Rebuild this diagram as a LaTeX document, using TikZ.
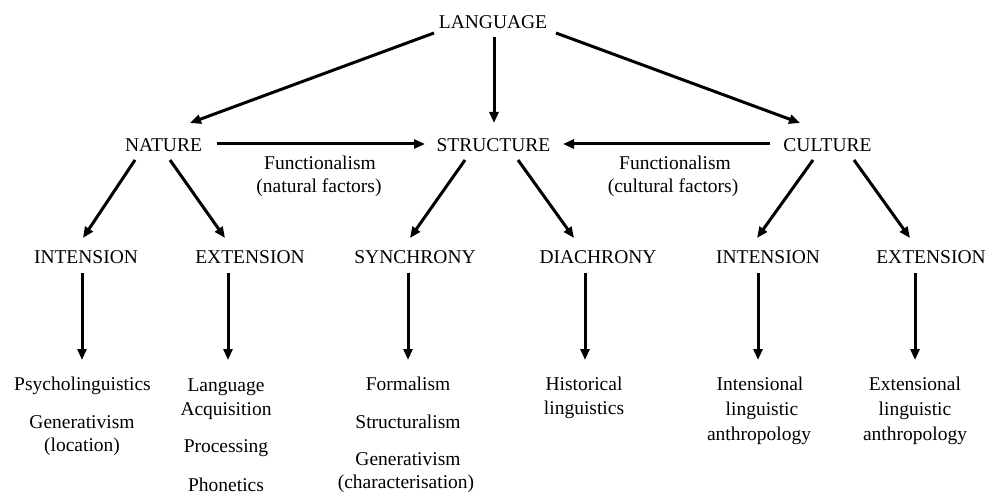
\documentclass[tikz,border=0pt]{standalone}
\usepackage{fontspec}
\setmainfont{Liberation Serif}
\usetikzlibrary{arrows.meta,calc}
\begin{document}
\begin{tikzpicture}[x=1pt,y=-1pt,
  lbl/.style={font=\fontsize{19.5pt}{24pt}\selectfont, inner sep=0pt, anchor=base},
  arr/.style={line width=3pt, -{Triangle[length=11pt,width=9pt]}}]
\fill[white] (0,0) rectangle (987,494);
\useasboundingbox (0,0) rectangle (987,494);
% level 1
\node[lbl] (lang) at (493,29) {LANGUAGE};
% level 2
\node[lbl] (nat) at (163.5,152) {NATURE};
\node[lbl] (str) at (493.5,152) {STRUCTURE};
\node[lbl] (cul) at (827.5,152) {CULTURE};
\node[lbl] (fn1) at (320,170) {Functionalism};
\node[lbl] (fn1b) at (319,193) {(natural factors)};
\node[lbl] (fn2) at (675,170) {Functionalism};
\node[lbl] (fn2b) at (673,193) {(cultural factors)};
% level 3
\node[lbl] (int1) at (86,263) {INTENSION};
\node[lbl] (ext1) at (250,263) {EXTENSION};
\node[lbl] (syn) at (415,263) {SYNCHRONY};
\node[lbl] (dia) at (598,263) {DIACHRONY};
\node[lbl] (int2) at (768,263) {INTENSION};
\node[lbl] (ext2) at (931,263) {EXTENSION};
% leaves
\node[lbl] (psy) at (82.5,390) {Psycholinguistics};
\node[lbl] (gen1) at (82,428) {Generativism};
\node[lbl] (gen1b) at (82,451) {(location)};
\node[lbl] (la) at (226,391) {Language};
\node[lbl] (acq) at (226,415) {Acquisition};
\node[lbl] (proc) at (226,452) {Processing};
\node[lbl] (phon) at (226,491) {Phonetics};
\node[lbl] (form) at (408,390) {Formalism};
\node[lbl] (struc) at (408,428) {Structuralism};
\node[lbl] (gen2) at (408,465) {Generativism};
\node[lbl] (gen2b) at (406,488) {(characterisation)};
\node[lbl] (hist) at (584,390) {Historical};
\node[lbl] (histb) at (584,414) {linguistics};
\node[lbl] (intl) at (760,390) {Intensional};
\node[lbl] (intlb) at (762,415) {linguistic};
\node[lbl] (intlc) at (759,440) {anthropology};
\node[lbl] (extl) at (915,390) {Extensional};
\node[lbl] (extlb) at (915,415) {linguistic};
\node[lbl] (extlc) at (915,440) {anthropology};
% connectors level 1 -> 2
\draw[arr] ($(lang.base)+(-59,4)$) -- ($(nat.base)+(26.5,-29)$);
\draw[arr] ($(lang.base)+(1,8)$) -- ($(str.base)+(0.5,-29)$);
\draw[arr] ($(lang.base)+(63,4)$) -- ($(cul.base)+(-27.5,-29)$);
% functionalism
\draw[arr] ($(nat.base)+(53.5,-8)$) -- ($(str.base)+(-68.5,-8)$);
\draw[arr] ($(cul.base)+(-57.5,-8)$) -- ($(str.base)+(69.5,-8)$);
% level 2 -> 3
\draw[arr] ($(nat.base)+(-28.5,8)$) -- ($(int1.base)+(-3,-25)$);
\draw[arr] ($(nat.base)+(6.5,8)$) -- ($(ext1.base)+(-25,-25)$);
\draw[arr] ($(str.base)+(-28.5,8)$) -- ($(syn.base)+(-5,-25)$);
\draw[arr] ($(str.base)+(24.5,8)$) -- ($(dia.base)+(-24,-25)$);
\draw[arr] ($(cul.base)+(-14.5,8)$) -- ($(int2.base)+(-11,-25)$);
\draw[arr] ($(cul.base)+(26.5,8)$) -- ($(ext2.base)+(-21,-25)$);
% level 3 -> leaves
\draw[arr] ($(int1.base)+(-4,10)$) -- ($(psy.base)+(-0.5,-30)$);
\draw[arr] ($(ext1.base)+(-22,10)$) -- ($(la.base)+(2,-31)$);
\draw[arr] ($(syn.base)+(-7,10)$) -- ($(form.base)+(0,-30)$);
\draw[arr] ($(dia.base)+(-13,10)$) -- ($(hist.base)+(1,-30)$);
\draw[arr] ($(int2.base)+(-10,10)$) -- ($(intl.base)+(-2,-30)$);
\draw[arr] ($(ext2.base)+(-16,10)$) -- ($(extl.base)+(0,-30)$);
\end{tikzpicture}
\end{document}
